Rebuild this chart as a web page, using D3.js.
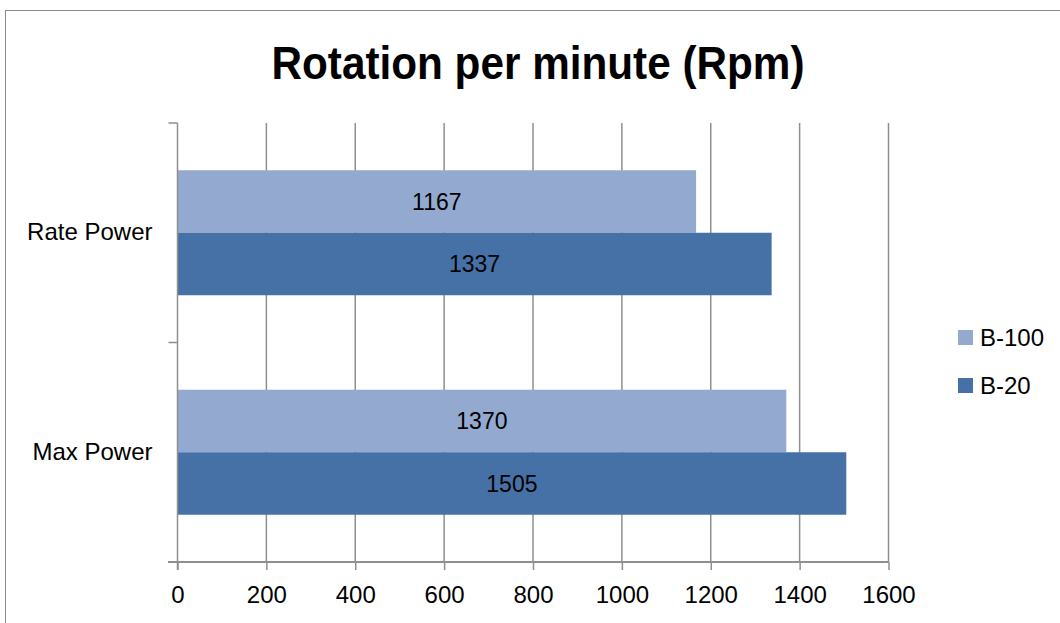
<!DOCTYPE html>
<html><head><meta charset="utf-8">
<script src="https://cdn.jsdelivr.net/npm/d3@7"></script>
<style>
html,body{margin:0;padding:0;background:#fff;}
svg text{font-family:"Liberation Sans",Arial,sans-serif;fill:#000;}
</style></head>
<body><svg id="c" width="1060" height="623"></svg>
<script>
const title = "Rotation per minute (Rpm)";
const categories = ["Rate Power", "Max Power"];
const seriesNames = ["B-100", "B-20"];
const b100 = [1167, 1370];
const b20 = [1337, 1505];
const xTicks = [0, 200, 400, 600, 800, 1000, 1200, 1400, 1600];
const colors = ["#93a9cf", "#4571a6"];

const svg = d3.select("#c");
// outer chart border
svg.append("rect").attr("x", 5.5).attr("y", 10.5).attr("width", 1070).attr("height", 640)
  .attr("fill", "#fff").attr("stroke", "#8a8a8a").attr("stroke-width", 1);

const L = 177.5, R = 888.5, T = 123, B = 562;
const x = d3.scaleLinear().domain([0, 1600]).range([L, R]);
const y = d3.scaleBand().domain(categories).range([T, B]);
const series = [b100, b20];

// title
svg.append("text").attr("x", 538).attr("y", 79).attr("text-anchor", "middle")
  .attr("font-size", 47).attr("font-weight", "bold")
  .attr("textLength", 533).attr("lengthAdjust", "spacingAndGlyphs").text(title);

// grid lines
svg.append("g").selectAll("line").data(xTicks.slice(1)).join("line")
  .attr("x1", d => x(d)).attr("x2", d => x(d)).attr("y1", T).attr("y2", B)
  .attr("stroke", "#8f8f8f").attr("stroke-width", 1.5);

// bars
const barH = 62.5;
categories.forEach((c, i) => {
  const cy = y(c) + y.bandwidth() / 2;
  series.forEach((s, j) => {
    const y0 = cy - barH + j * barH;
    svg.append("rect").attr("x", x(0)).attr("y", y0)
      .attr("width", x(s[i]) - x(0)).attr("height", barH).attr("fill", colors[j]);
    svg.append("text").attr("x", (x(0) + x(s[i])) / 2).attr("y", y0 + barH / 2)
      .attr("dy", "0.35em").attr("text-anchor", "middle").attr("font-size", 23)
      .text(s[i]);
  });
});

// x axis
const xAxis = d3.axisBottom(x).tickValues(xTicks).tickFormat(d3.format("d"))
  .tickSize(8).tickPadding(16).tickSizeOuter(0);
const gx = svg.append("g").attr("transform", `translate(0,${B})`).call(xAxis);
gx.select(".domain").attr("stroke", "#8f8f8f").attr("stroke-width", 2).attr("d", `M168,0H${R}`);
gx.selectAll(".tick line").attr("stroke", "#8f8f8f").attr("stroke-width", 1.5);
gx.selectAll(".tick text").attr("font-size", 24).attr("font-family", "Liberation Sans, Arial, sans-serif").attr("fill", "#000");

// y axis
const yAxis = d3.axisLeft(y).tickSize(0).tickPadding(25);
const gy = svg.append("g").attr("transform", `translate(${L},0)`).call(yAxis);
gy.select(".domain").attr("stroke", "#8f8f8f").attr("stroke-width", 1.5).attr("d", `M0,${T}V${B + 8}`);
gy.selectAll(".tick text").attr("font-size", 24).attr("font-family", "Liberation Sans, Arial, sans-serif").attr("fill", "#000");
// category boundary ticks
const bounds = [T, y(categories[1]), B];
svg.append("g").selectAll("line").data(bounds).join("line")
  .attr("x1", L - 9).attr("x2", L).attr("y1", d => d).attr("y2", d => d)
  .attr("stroke", "#8f8f8f").attr("stroke-width", 1.5);

// legend
const lg = svg.append("g");
seriesNames.forEach((n, j) => {
  const yy = 330 + j * 48;
  lg.append("rect").attr("x", 958).attr("y", yy).attr("width", 15).attr("height", 15).attr("fill", colors[j]);
  lg.append("text").attr("x", 980).attr("y", yy + 7.5).attr("dy", "0.35em").attr("font-size", 24).text(n);
});
</script></body></html>
